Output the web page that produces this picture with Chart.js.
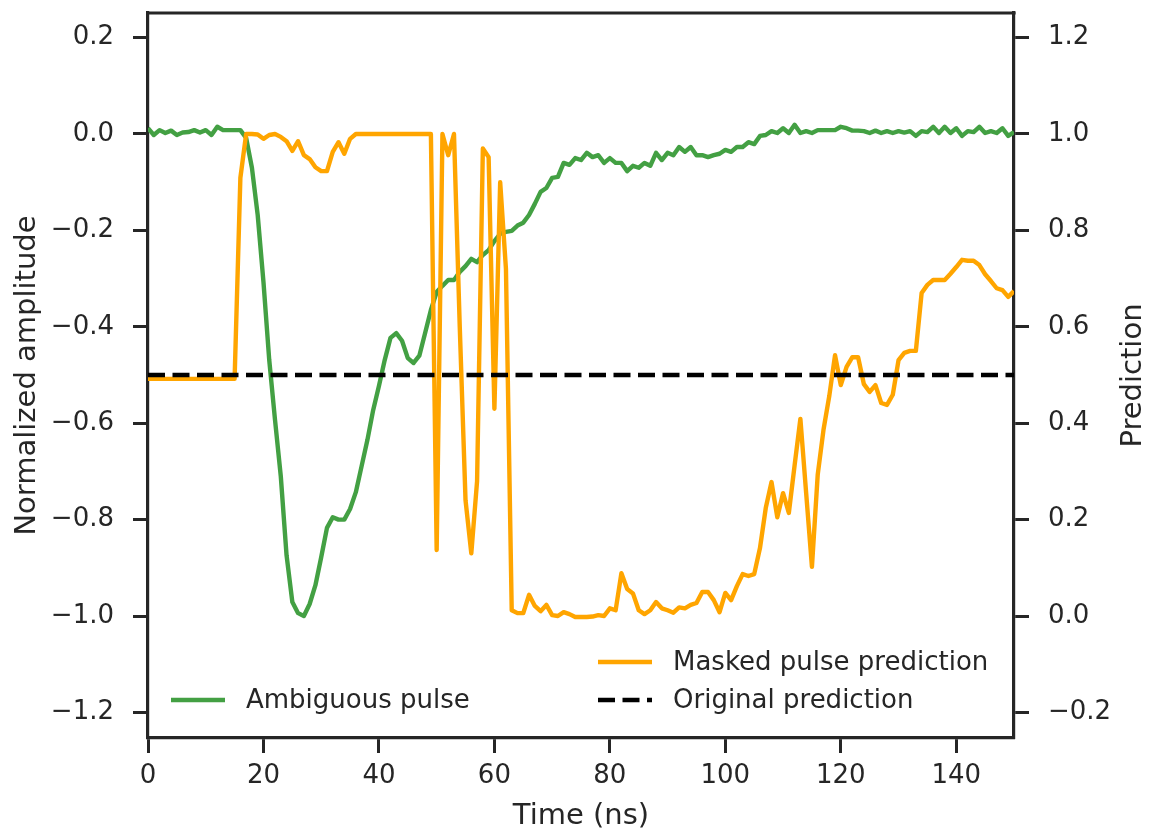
<!DOCTYPE html>
<html>
<head>
<meta charset="utf-8">
<script src="https://cdn.jsdelivr.net/npm/chart.js@4/dist/chart.umd.min.js"></script>
<style>
  html, body { margin: 0; padding: 0; background: #fff; }
  #wrap { width: 1151px; height: 836px; }
</style>
</head>
<body>
<div id="wrap"><canvas id="pulseChart" width="1151" height="836"></canvas></div>
<script>
// ===== data (1 ns samples, 0..150) =====
const times = Array.from({ length: 151 }, (_, i) => i);

// left axis: normalized amplitude
const ambiguousPulse = [
  0.012, -0.002, 0.008, 0.002, 0.007, -0.002, 0.003, 0.004, 0.008, 0.003,
  0.008, -0.002, 0.015, 0.008, 0.008, 0.008, 0.008, -0.008, -0.07, -0.168,
  -0.307, -0.469, -0.593, -0.71, -0.874, -0.971, -0.994, -1.0, -0.975, -0.936,
  -0.878, -0.817, -0.795, -0.8, -0.8, -0.778, -0.743, -0.689, -0.635, -0.573,
  -0.523, -0.469, -0.423, -0.413, -0.429, -0.465, -0.475, -0.46, -0.413, -0.365,
  -0.328, -0.315, -0.303, -0.303, -0.286, -0.274, -0.259, -0.266, -0.251, -0.241,
  -0.222, -0.207, -0.203, -0.201, -0.19, -0.184, -0.168, -0.145, -0.12, -0.112,
  -0.091, -0.089, -0.06, -0.064, -0.05, -0.054, -0.039, -0.048, -0.044, -0.06,
  -0.05, -0.06, -0.06, -0.077, -0.066, -0.07, -0.06, -0.066, -0.039, -0.054,
  -0.039, -0.044, -0.027, -0.037, -0.027, -0.044, -0.044, -0.048, -0.044, -0.041,
  -0.033, -0.037, -0.027, -0.027, -0.017, -0.021, -0.004, -0.002, 0.006, 0.002,
  0.012, 0.002, 0.019, 0.002, 0.006, 0.002, 0.008, 0.008, 0.008, 0.008,
  0.015, 0.012, 0.007, 0.007, 0.006, 0.002, 0.007, 0.002, 0.006, 0.002,
  0.006, 0.003, 0.006, -0.004, 0.006, 0.004, 0.015, 0.002, 0.015, 0.002,
  0.012, -0.004, 0.006, 0.004, 0.015, 0.002, 0.006, 0.002, 0.012, -0.004,
  0.004
];

// right axis: prediction
const maskedPrediction = [
  0.492, 0.492, 0.492, 0.492, 0.492, 0.492, 0.492, 0.492, 0.492, 0.492,
  0.492, 0.492, 0.492, 0.492, 0.492, 0.492, 0.909, 1.0, 1.0, 0.999,
  0.99, 0.998, 1.0, 0.994, 0.985, 0.965, 0.985, 0.956, 0.948, 0.931,
  0.923, 0.923, 0.963, 0.983, 0.959, 0.99, 1.0, 1.0, 1.0, 1.0,
  1.0, 1.0, 1.0, 1.0, 1.0, 1.0, 1.0, 1.0, 1.0, 1.0,
  0.137, 1.0, 0.956, 1.0, 0.6, 0.24, 0.13, 0.28, 0.97, 0.952,
  0.43, 0.9, 0.72, 0.012, 0.006, 0.006, 0.044, 0.021, 0.01, 0.023,
  0.002, 0.0, 0.008, 0.004, -0.002, -0.002, -0.002, -0.001, 0.002, 0.0,
  0.016, 0.012, 0.089, 0.056, 0.047, 0.012, 0.004, 0.012, 0.029, 0.016,
  0.012, 0.007, 0.018, 0.016, 0.023, 0.027, 0.05, 0.05, 0.033, 0.008,
  0.048, 0.033, 0.062, 0.087, 0.083, 0.087, 0.141, 0.224, 0.278, 0.205,
  0.255, 0.214, 0.313, 0.409, 0.255, 0.102, 0.293, 0.386, 0.456, 0.541,
  0.479, 0.517, 0.537, 0.537, 0.481, 0.465, 0.479, 0.442, 0.438, 0.459,
  0.531, 0.546, 0.55, 0.55, 0.67, 0.687, 0.697, 0.697, 0.697, 0.71,
  0.724, 0.739, 0.737, 0.737, 0.728, 0.709, 0.695, 0.68, 0.676, 0.662,
  0.674
];

const originalPrediction = 0.5;

const xTicks = [0, 20, 40, 60, 80, 100, 120, 140];
const leftTicks = [-1.2, -1.0, -0.8, -0.6, -0.4, -0.2, 0.0, 0.2];
const rightTicks = [-0.2, 0.0, 0.2, 0.4, 0.6, 0.8, 1.0, 1.2];

// ===== style =====
const INK = "#262626";
const FONT = "'DejaVu Sans', sans-serif";
const GREEN = "#43a043";
const ORANGE = "#ffa500";

Chart.defaults.font.family = FONT;
Chart.defaults.color = INK;

const fmt = (v) => v.toFixed(1).replace("-", "\u2212");
const setTicks = (list) => (scale) => { scale.ticks = list.map((v) => ({ value: v })); };
// fixed box sizes so the plot area sits where the reference has it
const fixBox = (size) => (s) => {
  if (s.isHorizontal()) s.height = size; else s.width = size;
  s.paddingTop = 0;
  s.paddingBottom = 0;
  s.paddingLeft = 0;
  s.paddingRight = 0;
};

const tickGrid = { display: true, drawOnChartArea: false, drawTicks: true, tickLength: 15, tickWidth: 3, tickColor: INK };
const spine = { display: true, color: INK, width: 3.2 };

// frame top line, right-hand title and the two legends
const extras = {
  id: "extras",
  afterDraw(chart) {
    const { ctx, chartArea: a } = chart;
    ctx.save();
    ctx.strokeStyle = INK;
    ctx.lineWidth = 3.2;
    ctx.beginPath();
    ctx.moveTo(a.left - 1.6, a.top);
    ctx.lineTo(a.right + 1.6, a.top);
    ctx.stroke();

    // right axis title, reads bottom to top
    ctx.fillStyle = INK;
    ctx.font = "29px " + FONT;
    ctx.textAlign = "center";
    ctx.textBaseline = "middle";
    ctx.translate(1133, (a.top + a.bottom) / 2);
    ctx.rotate(-Math.PI / 2);
    ctx.fillText("Prediction", 0, 0);
    ctx.restore();

    // legends
    const ds = chart.data.datasets;
    const entries = [
      { d: ds[0], x: 171, y: 700 },
      { d: ds[1], x: 598, y: 662 },
      { d: ds[2], x: 598, y: 700 }
    ];
    ctx.save();
    ctx.font = "26px " + FONT;
    ctx.textBaseline = "middle";
    ctx.textAlign = "left";
    entries.forEach((e) => {
      ctx.strokeStyle = e.d.borderColor;
      ctx.lineWidth = e.d.borderWidth;
      ctx.setLineDash(e.d.borderDash || []);
      ctx.beginPath();
      ctx.moveTo(e.x, e.y);
      ctx.lineTo(e.x + 54, e.y);
      ctx.stroke();
      ctx.setLineDash([]);
      ctx.fillStyle = INK;
      ctx.fillText(e.d.label, e.x + 75, e.y + 1);
    });
    ctx.restore();
  }
};

new Chart(document.getElementById("pulseChart"), {
  type: "line",
  data: {
    datasets: [
      {
        label: "Ambiguous pulse",
        data: times.map((t, i) => ({ x: t, y: ambiguousPulse[i] })),
        yAxisID: "y",
        borderColor: GREEN,
        borderWidth: 4.4,
        order: 2
      },
      {
        label: "Masked pulse prediction",
        data: times.map((t, i) => ({ x: t, y: maskedPrediction[i] })),
        yAxisID: "y2",
        borderColor: ORANGE,
        borderWidth: 4.4,
        order: 1
      },
      {
        label: "Original prediction",
        data: [{ x: 0, y: originalPrediction }, { x: 150, y: originalPrediction }],
        yAxisID: "y2",
        borderColor: "#000000",
        borderWidth: 4.4,
        borderDash: [17, 7.5],
        borderCapStyle: "butt",
        order: 0
      }
    ]
  },
  options: {
    responsive: false,
    animation: false,
    devicePixelRatio: 1,
    layout: { padding: { top: 13, left: 0, right: 0, bottom: 0 } },
    elements: {
      point: { radius: 0 },
      line: { tension: 0, fill: false, borderJoinStyle: "round" }
    },
    plugins: { legend: { display: false }, tooltip: { enabled: false } },
    scales: {
      x: {
        type: "linear",
        min: 0,
        max: 150,
        afterBuildTicks: setTicks(xTicks),
        afterFit: fixBox(98),
        grid: tickGrid,
        border: spine,
        ticks: { font: { size: 26 }, color: INK, padding: 8, maxRotation: 0, callback: (v) => String(v) },
        title: { display: true, text: "Time (ns)", font: { size: 29 }, color: INK, padding: { top: 0, bottom: 2 } }
      },
      y: {
        type: "linear",
        position: "left",
        min: -1.253,
        max: 0.251,
        afterBuildTicks: setTicks(leftTicks),
        afterFit: fixBox(148),
        grid: tickGrid,
        border: spine,
        ticks: { font: { size: 26 }, color: INK, padding: 19, callback: fmt },
        title: { display: true, text: "Normalized amplitude", font: { size: 29 }, color: INK, padding: { top: 10, bottom: 0 } }
      },
      y2: {
        type: "linear",
        position: "right",
        min: -0.253,
        max: 1.251,
        afterBuildTicks: setTicks(rightTicks),
        afterFit: fixBox(137),
        grid: tickGrid,
        border: spine,
        ticks: { font: { size: 26 }, color: INK, padding: 19, callback: fmt }
      }
    }
  },
  plugins: [extras]
});
</script>
</body>
</html>
